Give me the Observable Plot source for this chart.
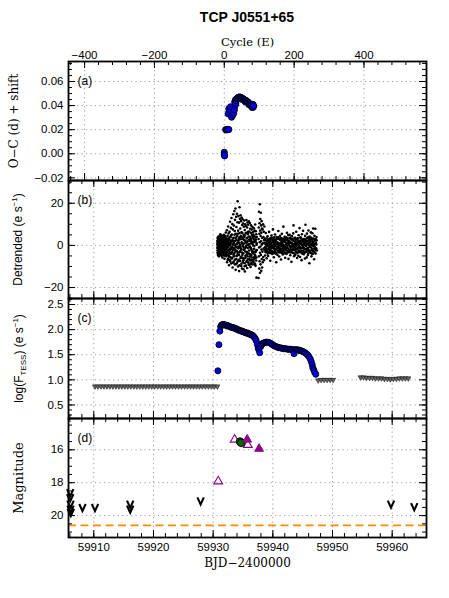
<!DOCTYPE html>
<html><head><meta charset="utf-8">
<script src="https://cdn.jsdelivr.net/npm/d3@7"></script>
<script src="https://cdn.jsdelivr.net/npm/@observablehq/plot@0.6"></script>
<style>
body{margin:0;background:#fff;}
#wrap{position:relative;width:449px;height:598px;overflow:hidden;background:#fff;}
#title{position:absolute;left:0;width:494px;top:9px;line-height:16px;text-align:center;font:bold 14px "Liberation Sans",Arial,sans-serif;color:#000;}
</style></head><body><div id="wrap"><div id="title">TCP J0551+65</div></div>
<script>
// ---------------- DATA ----------------
const cycleTicks = [-400, -200, 0, 200, 400];
const bjdTicks = [59910, 59920, 59930, 59940, 59950, 59960];
const ocTicks = [-0.02, 0, 0.02, 0.04, 0.06];
const detTicks = [-20, 0, 20];
const fluxTicks = [0.5, 1.0, 1.5, 2.0, 2.5];
const magTicks = [16, 18, 20];

// (a) O-C vs cycle
const ocPoints = [
 [0,0.0012],[0,-0.0005],[1,-0.0018],
 [4,0.0200],[7,0.0198],[10,0.0202],[13,0.0201],
 [11,0.0332],[13,0.0373],[16,0.0360],[18,0.0390],[21,0.0304],[24,0.0320],[27,0.0337],[29,0.0365],
 [30,0.0430],[31,0.0400],[32,0.0448],[33,0.0415],[34,0.0440],[36,0.0456],[38,0.0462],[40,0.0468],
 [42,0.0470],[44,0.0471],[46,0.0469],[48,0.0467],[50,0.0463],[50,0.0452],[52,0.0460],[54,0.0456],
 [56,0.0452],[58,0.0448],[60,0.0445],[60,0.0432],[62,0.0441],[64,0.0437],[66,0.0433],[68,0.0428],
 [70,0.0423],[70,0.0410],[72,0.0417],[74,0.0410],[76,0.0400],[78,0.0392],[80,0.0395],[80,0.0385],
 [82,0.0410],[83,0.0386],[84,0.0398]
];

// (b) detrended TESS flux: rise/core, superhump growth, gap edge, late plateau
const detrendedCore = [
 [59930.70,-1.2],[59930.72,2.1],[59930.74,-3.5],[59930.75,0.4],[59930.77,3.2],[59930.79,-0.8],[59930.80,-4.6],[59930.82,1.5],
 [59930.84,-2.2],[59930.86,4.1],[59930.88,0.2],[59930.90,-1.9],[59930.91,2.8],[59930.93,-3.1],[59930.95,1.0],[59930.97,-5.2],
 [59930.99,3.6],[59931.00,-0.5],[59931.02,2.3],[59931.04,-2.7],[59931.06,0.9],[59931.08,4.5],[59931.09,-1.4],[59931.11,-3.9],
 [59931.13,1.8],[59931.15,-0.3],[59931.17,3.0],[59931.18,-2.0],[59931.20,5.3],[59931.22,-4.2],[59931.24,0.6],[59931.26,2.5],
 [59931.27,-1.1],[59931.29,-3.4],[59931.31,1.2],[59931.33,3.8],[59931.35,-0.7],[59931.36,-2.6],[59931.38,0.1],[59931.40,4.8],
 [59931.42,-4.9],[59931.44,2.0],[59931.45,-1.6],[59931.47,1.4],[59931.49,-3.0],[59931.51,3.3],[59931.53,-0.2],[59931.54,-5.8],
 [59931.56,2.6],[59931.58,0.5],[59931.60,-2.4],[59931.62,4.0],[59931.63,-1.0],[59931.65,1.9],[59931.67,-3.7],[59931.69,0.8],
 [59931.71,3.5],[59931.72,-1.8],[59931.74,-4.4],[59931.76,2.2],[59931.78,0.0],[59931.80,-2.9],[59931.81,5.0],[59931.83,1.1],
 [59931.85,-0.9],[59931.87,-3.3],[59931.89,2.7],[59931.90,-6.3],[59931.92,0.3],[59931.94,3.9],[59931.96,-1.5],[59931.98,1.6],
 [59931.99,-2.1],[59932.01,4.4],[59932.03,-4.0],[59932.05,0.7],[59932.07,2.9],[59932.08,-0.6],[59932.10,-2.8],[59932.12,6.1],
 [59932.14,1.3],[59932.16,-3.6],[59932.18,0.4],
 [59930.71,0.8],[59930.73,-2.4],[59930.76,1.9],[59930.78,-0.3],[59930.81,3.9],[59930.83,-1.6],[59930.85,-3.8],[59930.87,2.5],
 [59930.89,-0.9],[59930.92,1.1],[59930.94,-2.3],[59930.96,0.3],[59930.98,-1.0],[59931.01,1.4],[59931.03,-4.1],[59931.05,3.3],
 [59931.07,-0.6],[59931.10,1.7],[59931.12,-2.5],[59931.14,0.5],[59931.16,2.9],[59931.19,-1.3],[59931.21,1.0],[59931.23,-2.8],
 [59931.25,3.6],[59931.28,-0.2],[59931.30,2.0],[59931.32,-4.5],[59931.34,1.5],[59931.37,-1.2],[59931.39,2.7],[59931.41,-0.4],
 [59931.43,-2.2],[59931.46,3.1],[59931.48,0.0],[59931.50,-1.7],[59931.52,1.8],[59931.55,-3.4],[59931.57,4.3],[59931.59,-0.8],
 [59931.61,1.0],[59931.64,-2.0],[59931.66,2.4],[59931.68,-4.8],[59931.70,0.6],[59931.73,-0.4],[59931.75,3.0],[59931.77,-2.3],
 [59931.79,1.2],[59931.82,-1.2],[59931.84,3.4],[59931.86,-3.9],[59931.88,0.2],[59931.91,2.1],[59931.93,-2.6],[59931.95,-0.1],
 [59931.97,3.7],[59932.00,-1.4],[59932.02,0.9],[59932.04,-5.0],[59932.06,2.4],[59932.09,1.0],[59932.11,-1.5],[59932.13,-4.0],
 [59932.15,2.2],[59932.17,-0.7],[59932.19,3.3]
];
const detrendedGrowth = [
 [59932.22,-5.1],[59932.25,3.4],[59932.27,-1.7],[59932.30,7.2],[59932.33,-8.0],[59932.35,0.9],[59932.38,-3.2],[59932.41,4.6],
 [59932.43,-0.4],[59932.46,2.0],[59932.49,-6.4],[59932.51,9.0],[59932.54,-2.3],[59932.57,1.1],[59932.59,5.7],[59932.62,-4.7],
 [59932.65,-9.4],[59932.67,3.0],[59932.70,0.2],[59932.73,-1.9],[59932.75,6.5],[59932.78,-7.0],[59932.81,2.4],[59932.83,11.2],
 [59932.86,-3.8],[59932.89,0.6],[59932.91,-5.6],[59932.94,4.0],[59932.97,8.3],[59932.99,-1.2],[59933.02,-8.6],[59933.05,1.8],
 [59933.07,13.0],[59933.10,-3.5],[59933.13,5.2],[59933.15,-0.8],[59933.18,-6.0],[59933.21,10.1],[59933.23,2.7],[59933.26,-10.5],
 [59933.29,7.6],[59933.31,-2.1],[59933.34,0.3],[59933.37,14.8],[59933.39,-4.3],[59933.42,3.6],[59933.45,-7.7],[59933.47,9.4],
 [59933.50,1.2],[59933.53,-1.5],[59933.55,16.3],[59933.58,-5.0],[59933.61,6.8],[59933.63,-9.0],[59933.66,12.1],[59933.69,2.2],
 [59933.71,-3.0],[59933.74,17.5],[59933.77,-11.6],[59933.79,5.5],[59933.82,-0.5],[59933.85,13.6],[59933.87,-6.5],[59933.90,8.7],
 [59933.93,0.8],[59933.95,-2.6],[59933.98,15.0],[59934.01,-8.2],[59934.03,4.4],[59934.06,11.0],[59934.09,-4.1],[59934.11,20.9],
 [59934.14,1.6],[59934.17,-10.0],[59934.19,7.0],[59934.22,13.9],[59934.25,-1.4],[59934.27,-6.8],[59934.30,3.1],[59934.33,10.8],
 [59934.35,-12.2],[59934.38,5.8],[59934.41,18.1],[59934.43,-3.3],[59934.46,0.0],[59934.49,12.6],[59934.51,-7.4],[59934.54,8.0],
 [59934.57,-0.9],[59934.59,14.3],[59934.62,-5.4],[59934.65,2.9],[59934.67,11.5],[59934.70,-9.8],[59934.73,6.2],[59934.75,-2.0],
 [59934.78,13.2],[59934.81,1.0],[59934.83,-11.0],[59934.86,9.7],[59934.89,-4.6],[59934.91,3.8],[59934.94,12.4],[59934.97,-7.9],
 [59934.99,0.5],[59935.02,10.4],[59935.05,-3.7],[59935.07,-11.3],[59935.10,5.0],[59935.13,8.9],[59935.15,-1.0],[59935.18,-6.2],
 [59935.21,11.8],[59935.23,2.5],[59935.26,-8.5],[59935.29,7.3],[59935.31,-12.4],[59935.34,4.7],[59935.37,10.0],[59935.39,-2.9],
 [59935.42,-5.9],[59935.45,1.4],[59935.47,9.2],[59935.50,-9.6],[59935.53,6.0],[59935.55,-0.1],[59935.58,12.0],[59935.61,-4.4],
 [59935.63,3.3],[59935.66,-7.3],[59935.69,8.5],[59935.71,-10.7],[59935.74,1.9],[59935.77,10.9],[59935.79,-3.6],[59935.82,5.4],
 [59935.85,-6.6],[59935.87,9.8],[59935.90,0.1],[59935.93,-8.8],[59935.95,4.2],[59935.98,11.4],[59936.01,-2.4],[59936.03,-9.3],
 [59936.06,6.6],[59936.09,2.1],[59936.11,-5.3],[59936.14,10.6],[59936.17,-0.6],[59936.19,-7.1],[59936.22,7.9],[59936.25,3.4],
 [59936.27,-10.2],[59936.30,5.9],[59936.33,-1.3],[59936.35,9.5],[59936.38,-4.8],[59936.41,1.7],[59936.43,-8.1],[59936.46,7.5],
 [59936.49,-2.7],[59936.51,4.9],[59936.54,-6.9],[59936.57,8.8],[59936.59,0.7],[59936.62,-9.1],[59936.65,3.7],[59936.67,6.3],
 [59936.70,-3.9],[59936.73,-7.6],[59936.75,5.1],[59936.78,1.5],[59936.81,-5.7],[59936.83,8.1],[59936.86,-1.6],[59936.89,-8.4],
 [59936.91,4.3],[59936.94,7.0],[59936.97,-3.4],[59936.99,-6.1],[59937.02,2.3],[59937.05,9.9],[59937.07,-4.9],[59937.10,-9.7],
 [59937.13,3.9],[59937.15,6.7],[59937.18,-2.5],[59937.21,-7.2],[59937.23,5.3],[59937.26,-15.3],[59937.29,1.0],[59937.31,4.0],
 [59932.24,-2.0],[59932.29,1.5],[59932.34,-4.3],[59932.39,0.4],[59932.44,-6.9],[59932.48,2.8],[59932.53,-0.9],[59932.58,-3.6],
 [59932.63,1.0],[59932.68,-5.5],[59932.72,3.9],[59932.77,-2.5],[59932.82,-0.1],[59932.87,-7.6],[59932.92,1.6],[59932.96,-4.0],
 [59933.01,4.8],[59933.06,-1.8],[59933.11,-6.2],[59933.16,2.0],[59933.20,-3.1],[59933.25,0.7],[59933.30,-8.2],[59933.35,3.3],
 [59933.40,-1.1],[59933.44,-5.3],[59933.49,1.9],[59933.54,-3.8],[59933.59,5.0],[59933.64,-6.8],[59933.68,0.0],[59933.73,-2.3],
 [59933.78,3.6],[59933.83,-8.9],[59933.88,-1.0],[59933.92,2.6],[59933.97,-5.0],[59934.02,0.8],[59934.07,-3.0],[59934.12,5.5],
 [59934.16,-7.5],[59934.21,-0.6],[59934.26,2.3],[59934.31,-4.5],[59934.36,1.2],[59934.40,-9.5],[59934.45,3.9],[59934.50,-2.8],
 [59934.55,0.2],[59934.60,-6.1],[59934.64,4.5],[59934.69,-1.7],[59934.74,-8.7],[59934.79,1.5],[59934.84,-3.4],[59934.88,6.0],
 [59934.93,-5.9],[59934.98,-0.4],[59935.03,2.9],[59935.08,-7.0],[59935.12,0.9],[59935.17,-2.2],[59935.22,4.0],[59935.27,-9.9],
 [59935.32,-1.5],[59935.36,2.2],[59935.41,-4.9],[59935.46,5.8],[59935.51,-0.7],[59935.56,-7.8],[59935.60,1.1],[59935.65,-3.2],
 [59935.70,3.5],[59935.75,-5.2],[59935.80,-1.2],[59935.84,6.4],[59935.89,-8.0],[59935.94,0.6],[59935.99,-3.9],[59936.04,2.7],
 [59936.08,-6.4],[59936.13,-0.8],[59936.18,4.1],[59936.23,-4.2],[59936.28,0.9],[59936.32,-8.8],[59936.37,2.5],[59936.42,-2.0],
 [59936.47,-5.8],[59936.52,1.3],[59936.56,-3.3],[59936.61,4.6],[59936.66,-7.1],[59936.71,0.0],[59936.76,-2.9],[59936.80,3.0],
 [59936.85,-6.3],[59936.90,-0.3],[59936.95,2.1],[59937.00,-4.6],[59937.04,-9.0],[59937.09,1.8],[59937.14,-3.0],[59937.19,2.8],
 [59937.24,-5.8],[59937.28,0.3],[59937.33,-2.2]
];
const detrendedGapEdge = [
 [59937.60,-15.5],[59937.62,3.0],[59937.64,8.5],[59937.66,-5.2],[59937.68,16.0],[59937.70,-1.0],[59937.72,-11.0],[59937.74,5.5],
 [59937.76,10.5],[59937.78,-7.5],[59937.80,1.5],[59937.82,19.5],[59937.84,-3.5],[59937.86,-13.0],[59937.88,7.0],[59937.90,12.5],
 [59937.92,-0.5],[59937.94,-9.0],[59937.96,4.5],[59937.98,15.5],[59938.00,-4.5],[59938.02,2.0],[59938.04,9.5],[59938.06,-12.0],
 [59938.08,6.0],[59938.10,-2.0],[59938.12,11.5],[59938.14,-6.5],[59938.16,0.5],[59938.18,8.0],[59938.20,-10.5],[59938.22,3.5],
 [59938.25,-3.0],[59938.28,7.5],[59938.31,-8.0],[59938.34,1.0],[59938.37,10.0],[59938.40,-5.5],[59938.43,4.0],[59938.46,-1.5],
 [59938.49,6.5],[59938.52,-7.0],[59938.55,2.5],[59938.58,9.0]
];
const detrendedLate = [
 [59938.62,-2.3],[59938.67,3.1],[59938.72,-4.8],[59938.77,0.7],[59938.82,5.9],[59938.87,-1.4],[59938.92,2.2],[59938.97,-6.1],
 [59939.02,1.0],[59939.07,-3.0],[59939.12,4.3],[59939.17,-0.2],[59939.22,-5.0],[59939.27,2.8],[59939.32,-1.7],[59939.37,6.4],
 [59939.42,0.4],[59939.47,-3.6],[59939.52,1.9],[59939.57,-7.3],[59939.62,3.5],[59939.67,-0.9],[59939.72,-2.7],[59939.77,4.7],
 [59939.82,0.1],[59939.87,-4.1],[59939.92,2.5],[59939.97,-1.1],[59940.02,7.6],[59940.07,-3.3],[59940.12,1.3],[59940.17,-5.6],
 [59940.22,3.8],[59940.27,-0.6],[59940.32,-2.1],[59940.37,5.2],[59940.42,0.9],[59940.47,-3.9],[59940.52,2.0],[59940.57,-8.0],
 [59940.62,4.0],[59940.67,-1.3],[59940.72,1.6],[59940.77,-4.5],[59940.82,3.3],[59940.87,-0.4],[59940.92,6.8],[59940.97,-2.5],
 [59941.02,0.2],[59941.07,-5.3],[59941.12,2.9],[59941.17,-1.8],[59941.22,4.6],[59941.27,-3.4],[59941.32,1.2],[59941.37,-6.7],
 [59941.42,3.0],[59941.47,-0.1],[59941.52,5.5],[59941.57,-2.9],[59941.62,0.6],[59941.67,-4.3],[59941.72,2.4],[59941.77,8.9],
 [59941.82,-1.5],[59941.87,-3.7],[59941.92,1.7],[59941.97,4.1],[59942.02,-0.8],[59942.07,-5.9],[59942.12,2.6],[59942.17,-2.2],
 [59942.22,3.9],[59942.27,0.3],[59942.32,-4.0],[59942.37,6.0],[59942.42,-1.0],[59942.47,1.4],[59942.52,-3.1],[59942.57,4.9],
 [59942.62,-6.4],[59942.67,0.8],[59942.72,2.1],[59942.77,-2.6],[59942.82,5.0],[59942.87,-0.5],[59942.92,-4.7],[59942.97,3.2],
 [59943.02,-1.9],[59943.07,1.1],[59943.12,-7.8],[59943.17,4.4],[59943.22,-0.3],[59943.27,2.7],[59943.32,-3.5],[59943.37,0.0],
 [59943.42,5.7],[59943.47,9.5],[59943.52,-2.0],[59943.57,-5.1],[59943.62,2.3],[59943.67,-0.7],[59943.72,3.6],[59943.77,-4.4],
 [59943.82,1.5],[59943.87,-1.6],[59943.92,6.5],[59943.97,-3.2],[59944.02,0.5],[59944.07,-6.0],[59944.12,3.4],[59944.17,-1.2],
 [59944.22,2.0],[59944.27,-4.9],[59944.32,4.8],[59944.37,0.9],[59944.42,-2.4],[59944.47,8.2],[59944.52,-0.9],[59944.57,-5.5],
 [59944.62,1.8],[59944.67,3.7],[59944.72,-2.8],[59944.77,0.4],[59944.82,-7.0],[59944.87,5.3],[59944.92,-1.1],[59944.97,2.5],
 [59945.02,-3.8],[59945.07,6.9],[59945.12,0.2],[59945.17,-4.2],[59945.22,3.0],[59945.27,-1.7],[59945.32,1.3],[59945.37,-6.2],
 [59945.42,4.5],[59945.47,9.8],[59945.52,-0.2],[59945.57,-3.0],[59945.62,2.2],[59945.67,-5.7],[59945.72,5.6],[59945.77,-1.4],
 [59945.82,0.7],[59945.87,-4.6],[59945.92,3.9],[59945.97,7.1],[59946.02,-2.3],[59946.07,1.0],[59946.12,-8.5],[59946.17,4.2],
 [59946.22,-0.6],[59946.27,2.8],[59946.32,-3.6],[59946.37,6.2],[59946.42,0.3],[59946.47,-5.2],[59946.52,3.1],[59946.57,-1.9],
 [59946.62,5.8],[59946.67,-4.1],[59946.72,1.6],[59946.77,8.0],[59946.82,-2.7],[59946.87,0.0],[59946.92,-6.6],[59946.97,4.6],
 [59947.02,-0.8],[59947.07,2.9],[59947.12,7.9],[59947.17,-3.9],[59947.22,1.2],[59947.27,-1.5],[59947.32,4.0],[59947.37,-2.4],
 [59938.64,1.2],[59938.69,-0.9],[59938.74,2.6],[59938.79,-3.2],[59938.84,0.3],[59938.89,-1.8],[59938.94,3.4],[59938.99,-0.2],
 [59939.04,-2.5],[59939.09,1.7],[59939.14,-3.9],[59939.19,0.8],[59939.24,2.2],[59939.29,-1.2],[59939.34,-3.0],[59939.39,1.4],
 [59939.44,3.0],[59939.49,-0.6],[59939.54,-2.2],[59939.59,0.5],[59939.64,2.9],[59939.69,-3.4],[59939.74,1.1],[59939.79,-1.5],
 [59939.84,3.6],[59939.89,-0.3],[59939.94,-2.8],[59939.99,1.9],[59940.04,-1.0],[59940.09,3.2],[59940.14,-3.7],[59940.19,0.4],
 [59940.24,-1.6],[59940.29,2.4],[59940.34,-0.1],[59940.39,-3.1],[59940.44,1.6],[59940.49,2.8],[59940.54,-2.0],[59940.59,0.7],
 [59940.64,-3.5],[59940.69,3.1],[59940.74,-0.5],[59940.79,1.3],[59940.84,-2.4],[59940.89,0.0],[59940.94,3.8],[59940.99,-1.3],
 [59941.04,-3.3],[59941.09,1.0],[59941.14,-0.8],[59941.19,2.7],[59941.24,-2.6],[59941.29,0.6],[59941.34,3.5],[59941.39,-1.9],
 [59941.44,-0.4],[59941.49,2.0],[59941.54,-3.6],[59941.59,1.5],[59941.64,-1.1],[59941.69,3.3],[59941.74,-2.3],[59941.79,0.2],
 [59941.84,2.5],[59941.89,-0.7],[59941.94,-3.0],[59941.99,1.8],[59942.04,-1.7],[59942.09,3.0],[59942.14,0.4],[59942.19,-3.8],
 [59942.24,1.2],[59942.29,-1.4],[59942.34,2.6],[59942.39,-0.2],[59942.44,-2.7],[59942.49,3.4],[59942.54,0.9],[59942.59,-1.6],
 [59942.64,2.3],[59942.69,-3.2],[59942.74,0.1],[59942.79,1.7],[59942.84,-2.1],[59942.89,3.6],[59942.94,-0.6],[59942.99,1.4],
 [59943.04,-3.4],[59943.09,2.8],[59943.14,-0.9],[59943.19,1.0],[59943.24,-2.5],[59943.29,3.1],[59943.34,0.5],[59943.39,-1.8],
 [59943.44,2.1],[59943.49,-3.7],[59943.54,0.8],[59943.59,-1.0],[59943.64,3.5],[59943.69,-2.2],[59943.74,0.3],[59943.79,2.4],
 [59943.84,-3.1],[59943.89,1.1],[59943.94,-0.5],[59943.99,2.9],[59944.04,-2.0],[59944.09,0.6],[59944.14,-3.6],[59944.19,1.6],
 [59944.24,3.3],[59944.29,-1.3],[59944.34,0.0],[59944.39,-2.9],[59944.44,2.2],[59944.49,-0.8],[59944.54,1.3],[59944.59,-3.3],
 [59944.64,3.7],[59944.69,-1.5],[59944.74,0.9],[59944.79,2.6],[59944.84,-2.4],[59944.89,0.2],[59944.94,-3.9],[59944.99,1.8],
 [59945.04,-0.6],[59945.09,3.0],[59945.14,-2.7],[59945.19,1.0],[59945.24,-1.1],[59945.29,2.3],[59945.34,-3.5],[59945.39,0.4],
 [59945.44,2.8],[59945.49,-1.9],[59945.54,1.5],[59945.59,-0.3],[59945.64,-3.0],[59945.69,3.4],[59945.74,0.7],[59945.79,-2.0],
 [59945.84,1.9],[59945.89,-1.2],[59945.94,-3.8],[59945.99,2.5],[59946.04,0.1],[59946.09,-2.6],[59946.14,3.2],[59946.19,-0.7],
 [59946.24,1.4],[59946.29,-3.3],[59946.34,2.0],[59946.39,-1.0],[59946.44,3.6],[59946.49,-2.3],[59946.54,0.6],[59946.59,-3.9],
 [59946.64,2.7],[59946.69,-0.4],[59946.74,1.1],[59946.79,-2.8],[59946.84,3.3],[59946.89,0.3],[59946.94,-1.6],[59946.99,2.2],
 [59947.04,-3.4],[59947.09,0.9],[59947.14,-1.3],[59947.19,3.0],[59947.24,-2.1],[59947.29,0.4],[59947.34,2.4]
];

// (c) TESS log flux detections and upper limits
const tessFlux = [
 [59930.79,1.18],[59930.96,1.70],[59931.12,1.97],[59931.25,2.06],[59931.40,2.09],[59931.55,2.10],[59931.70,2.10],[59931.85,2.10],
 [59932.00,2.09],[59932.15,2.09],[59932.30,2.08],[59932.45,2.08],[59932.60,2.07],[59932.75,2.06],[59932.90,2.05],[59933.05,2.05],
 [59933.20,2.04],[59933.35,2.04],[59933.50,2.03],[59933.65,2.03],[59933.80,2.02],[59933.95,2.01],[59934.10,2.00],[59934.25,1.99],
 [59934.40,1.99],[59934.55,1.98],[59934.70,1.97],[59934.85,1.97],[59935.00,1.96],[59935.15,1.95],[59935.30,1.95],[59935.45,1.94],
 [59935.60,1.93],[59935.75,1.93],[59935.90,1.92],[59936.05,1.91],[59936.20,1.91],[59936.35,1.90],[59936.50,1.89],[59936.65,1.88],
 [59936.80,1.86],[59936.95,1.84],[59937.10,1.81],[59937.25,1.77],[59937.40,1.70],[59937.55,1.63],[59937.65,1.60],[59937.80,1.54],
 [59937.95,1.66],[59938.10,1.70],[59938.25,1.72],[59938.40,1.73],[59938.60,1.74],[59938.80,1.75],[59939.00,1.75],[59939.20,1.75],
 [59939.40,1.74],[59939.60,1.73],[59939.80,1.71],[59940.00,1.70],[59940.20,1.68],[59940.40,1.67],[59940.60,1.66],[59940.80,1.65],
 [59941.00,1.64],[59941.20,1.64],[59941.40,1.63],[59941.60,1.63],[59941.80,1.62],[59942.00,1.62],[59942.20,1.62],[59942.40,1.61],
 [59942.60,1.61],[59942.80,1.61],[59943.00,1.61],[59943.20,1.60],[59943.40,1.60],[59943.55,1.52],[59943.70,1.60],[59943.90,1.60],
 [59944.10,1.60],[59944.30,1.59],[59944.50,1.59],[59944.70,1.58],[59944.90,1.57],[59945.10,1.56],[59945.30,1.55],[59945.50,1.53],
 [59945.70,1.51],[59945.90,1.49],[59946.10,1.45],[59946.30,1.41],[59946.45,1.36],[59946.60,1.30],[59946.70,1.24],[59946.85,1.20],
 [59947.00,1.15],[59947.20,1.11]
];
const tessLimits = [
 [59910.2,0.87],[59910.7,0.87],[59911.2,0.87],[59911.7,0.87],[59912.2,0.87],[59912.7,0.87],[59913.2,0.87],[59913.7,0.87],
 [59914.2,0.87],[59914.7,0.87],[59915.2,0.87],[59915.7,0.87],[59916.2,0.87],[59916.7,0.87],[59917.2,0.87],[59917.7,0.87],
 [59918.2,0.87],[59918.7,0.87],[59919.2,0.87],[59919.7,0.87],[59920.2,0.87],[59920.7,0.87],[59921.2,0.87],[59921.7,0.87],
 [59922.2,0.87],[59922.7,0.87],[59923.2,0.87],[59923.7,0.87],[59924.2,0.87],[59924.7,0.87],[59925.2,0.87],[59925.7,0.87],
 [59926.2,0.87],[59926.7,0.87],[59927.2,0.87],[59927.7,0.87],[59928.2,0.87],[59928.7,0.87],[59929.2,0.87],[59929.7,0.87],
 [59930.2,0.87],[59930.7,0.87],
 [59947.6,0.99],[59948.1,1.00],[59948.6,1.00],[59949.1,1.00],[59949.6,1.00],[59950.1,1.00],
 [59954.7,1.05],[59955.2,1.05],[59955.7,1.04],[59956.2,1.04],[59956.7,1.04],[59957.2,1.03],[59957.7,1.03],[59958.2,1.03],
 [59958.7,1.02],[59959.2,1.02],[59959.7,1.01],[59960.2,1.02],[59960.7,1.02],[59961.2,1.03],[59961.7,1.03],[59962.2,1.03],[59962.7,1.03]
];

// (d) ground-based magnitudes
const openTriangles = [[59933.6,15.38],[59935.8,15.70],[59930.85,17.92]];
const filledTriangles = [[59935.7,15.38],[59937.7,15.94]];
const greenCircles = [[59934.5,15.50],[59934.7,15.58]];
const upperLimits = [
 [59906.05,18.6],[59906.05,18.9],[59906.1,19.3],[59906.1,19.6],[59906.15,19.8],
 [59908.1,19.5],[59910.2,19.5],[59916.1,19.3],[59916.1,19.6],[59927.9,19.1],[59959.8,19.3],[59963.7,19.45]
];
const limitMag = [20.59];

// ---------------- LAYOUT ----------------
const W = 449, ML = 68, MR = 23;
const SANS = "Liberation Sans, Arial, Helvetica, sans-serif";
const SERIF = "DejaVu Serif, serif";
const bjdDomain = [59905.76, 59965.75];
const cycleDomain = [-446, 579];
const wrap = document.getElementById("wrap");

// "v"-shaped upper-limit marker
const vSymbol = {
  draw(ctx, size) {
    const r = Math.sqrt(size / Math.PI);
    ctx.moveTo(-0.85 * r, -0.9 * r);
    ctx.lineTo(0, 0.95 * r);
    ctx.lineTo(0.85 * r, -0.9 * r);
  }
};

function makePanel(cfg) {
  const {top, height, mt, mb} = cfg;
  const fh = height - mt - mb, fw = W - ML - MR;
  const xs = cfg.xDomain, ys = cfg.yDomain;
  const within = (d, v) => v >= Math.min(d[0], d[1]) - 1e-9 && v <= Math.max(d[0], d[1]) + 1e-9;
  const step = cfg.xMinorStep;
  const xMin = d3.range(Math.ceil(xs[0] / step), Math.floor(xs[1] / step) + 1).map(k => k * step).filter(v => within(xs, v));
  const xMaj = cfg.xMajor.filter(v => within(xs, v));
  const yMin = cfg.yMinor.filter(v => within(ys, v));
  const yMaj = cfg.yMajor.filter(v => within(ys, v));
  const tk = {stroke: "#000", strokeWidth: 1};
  const grid = {stroke: "#999", strokeOpacity: 1, strokeWidth: 1, strokeDasharray: "1.2,3.3"};
  const marks = [
    Plot.gridX(xMaj, grid),
    Plot.gridY(yMaj, grid),
    ...cfg.marks,
    Plot.ruleX(xMaj, {...tk, insetBottom: fh - 7}),
    Plot.ruleX(xMaj, {...tk, insetTop: fh - 7}),
    Plot.ruleX(xMin, {...tk, insetBottom: fh - 4}),
    Plot.ruleX(xMin, {...tk, insetTop: fh - 4}),
    Plot.ruleY(yMaj, {...tk, insetRight: fw - 7}),
    Plot.ruleY(yMaj, {...tk, insetLeft: fw - 7}),
    Plot.ruleY(yMin, {...tk, insetRight: fw - 4}),
    Plot.ruleY(yMin, {...tk, insetLeft: fw - 4}),
    Plot.frame({stroke: "#000", strokeWidth: 1.8}),
    Plot.axisY({ticks: yMaj, anchor: "left", tickSize: 0, tickPadding: 5, label: null, fontSize: 11.5, fontFamily: SANS, tickFormat: cfg.yFormat}),
    Plot.text([cfg.tag], {text: d => d, frameAnchor: "top-left", dx: 9, dy: 20, textAnchor: "start", lineAnchor: "middle", fontSize: 12, fontFamily: SANS}),
    Plot.text([cfg.yLabel], {text: d => d, frameAnchor: "left", dx: cfg.yLabelX - ML, rotate: -90, textAnchor: "middle", lineAnchor: "middle", fontSize: cfg.yLabelSize, fontFamily: cfg.yLabelFont}),
    ...(cfg.extra || [])
  ];
  const svg = Plot.plot({
    width: W, height, marginLeft: ML, marginRight: MR, marginTop: mt, marginBottom: mb,
    x: {domain: xs, axis: null}, y: {domain: ys, axis: null},
    style: {background: "transparent", overflow: "visible"},
    marks
  });
  svg.style.position = "absolute";
  svg.style.top = top + "px";
  svg.style.left = "0px";
  wrap.appendChild(svg);
  return svg;
}

function richLabel(svg, plain, html) {
  for (const t of svg.querySelectorAll("text")) {
    if (t.textContent === plain) t.innerHTML = html;
  }
}

// (a)
makePanel({
  top: 0, height: 185, mt: 61, mb: 5,
  xDomain: cycleDomain, yDomain: [-0.0222, 0.0766],
  xMajor: cycleTicks, xMinorStep: 40,
  yMajor: ocTicks, yMinor: d3.range(-4, 16).map(k => k * 0.005),
  yFormat: d3.format(".2f"),
  tag: "(a)", yLabel: "O\u2212C (d) + shift", yLabelX: 14, yLabelSize: 12, yLabelFont: SERIF,
  marks: [
    Plot.dot(ocPoints, {x: d => d[0], y: d => d[1], r: 3.1, fill: "#0000ff", stroke: "#000", strokeWidth: 0.9})
  ],
  extra: [
    Plot.axisX({ticks: cycleTicks, anchor: "top", tickSize: 0, tickPadding: 3, label: null, fontSize: 11.5, fontFamily: SANS, tickFormat: d3.format("d")}),
    Plot.text(["Cycle (E)"], {text: d => d, frameAnchor: "top", dy: -19.5, lineAnchor: "middle", fontSize: 11.5, fontFamily: SERIF})
  ]
});

// (b)
const svgB = makePanel({
  top: 175, height: 128, mt: 5, mb: 5,
  xDomain: bjdDomain, yDomain: [-25.2, 30.8],
  xMajor: bjdTicks, xMinorStep: 2,
  yMajor: detTicks, yMinor: d3.range(-5, 7).map(k => k * 5),
  yFormat: d3.format("d"),
  tag: "(b)", yLabel: "Detrended (e s-1)", yLabelX: 18, yLabelSize: 12, yLabelFont: SANS,
  marks: [
    Plot.dot([...detrendedCore, ...detrendedGrowth, ...detrendedGapEdge, ...detrendedLate],
      {x: d => d[0], y: d => d[1], r: 1.3, fill: "#000", stroke: "none"})
  ]
});
richLabel(svgB, "Detrended (e s-1)", 'Detrended (e s<tspan dy="-5" font-size="8">\u22121</tspan><tspan dy="5">)</tspan>');

// (c)
const svgC = makePanel({
  top: 293, height: 130, mt: 5, mb: 5,
  xDomain: bjdDomain, yDomain: [0.23, 2.62],
  xMajor: bjdTicks, xMinorStep: 2,
  yMajor: fluxTicks, yMinor: d3.range(3, 27).map(k => k / 10),
  yFormat: d3.format(".1f"),
  tag: "(c)", yLabel: "log(FTESS) (e s-1)", yLabelX: 19, yLabelSize: 12, yLabelFont: SANS,
  marks: [
    Plot.dot(tessLimits, {x: d => d[0], y: d => d[1], symbol: "triangle", rotate: 180, r: 1.9, fill: "#666", stroke: "#111", strokeWidth: 0.6}),
    Plot.dot(tessFlux, {x: d => d[0], y: d => d[1], r: 3.0, fill: "#0000ff", stroke: "#000", strokeWidth: 0.9})
  ]
});
richLabel(svgC, "log(FTESS) (e s-1)", 'log(F<tspan dy="3" font-size="8">TESS</tspan><tspan dy="-3">) (e s</tspan><tspan dy="-5" font-size="8">\u22121</tspan><tspan dy="5">)</tspan>');

// (d)
makePanel({
  top: 413, height: 185, mt: 5, mb: 61,
  xDomain: bjdDomain, yDomain: [21.33, 14.10],
  xMajor: bjdTicks, xMinorStep: 2,
  yMajor: magTicks, yMinor: d3.range(29, 43).map(k => k / 2),
  yFormat: d3.format("d"),
  tag: "(d)", yLabel: "Magnitude", yLabelX: 18, yLabelSize: 13, yLabelFont: SERIF,
  marks: [
    Plot.ruleY(limitMag, {stroke: "#ff8c00", strokeWidth: 1.7, strokeDasharray: "8,4.5"}),
    Plot.dot(upperLimits, {x: d => d[0], y: d => d[1], symbol: vSymbol, r: 3.8, fill: "none", stroke: "#000", strokeWidth: 2.1}),
    Plot.dot(openTriangles, {x: d => d[0], y: d => d[1], symbol: "triangle2", r: 4.2, fill: "none", stroke: "#8b008b", strokeWidth: 1.1}),
    Plot.dot(greenCircles, {x: d => d[0], y: d => d[1], r: 3.8, fill: "#006400", stroke: "#000", strokeWidth: 0.9}),
    Plot.dot(filledTriangles, {x: d => d[0], y: d => d[1], symbol: "triangle2", r: 4.2, fill: "#8b008b", stroke: "#8b008b", strokeWidth: 1})
  ],
  extra: [
    Plot.axisX({ticks: bjdTicks, anchor: "bottom", tickSize: 0, tickPadding: 5, label: null, fontSize: 11.5, fontFamily: SANS, tickFormat: d3.format("d")}),
    Plot.text(["BJD\u22122400000"], {text: d => d, frameAnchor: "bottom", dy: 25.5, lineAnchor: "middle", fontSize: 12, fontFamily: SERIF})
  ]
});
</script></body></html>
